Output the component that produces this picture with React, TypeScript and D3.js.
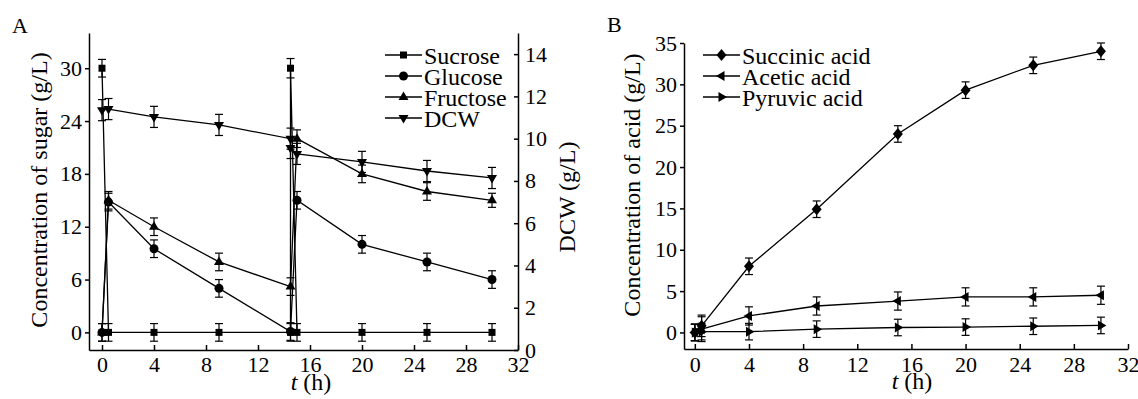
import React, { useEffect, useRef } from 'react';
import * as d3 from 'd3';

const W = 1138;
const H = 399;
const FONT = "'Liberation Serif', 'DejaVu Serif', serif";

// Panel A: sugars (left axis) and DCW (right axis)
const sucroseT = [0, 0.5, 4, 9, 14.5, 14.5, 15, 20, 25, 30];
const sucroseV = [30, 0, 0, 0, 0, 30, 0, 0, 0, 0];
const sucroseE = [1, 1, 1, 1, 1, 1.1, 1, 1, 1, 1];

const sugarT = [0, 0.5, 4, 9, 14.5, 15, 20, 25, 30];
const glucoseV = [0, 14.8, 9.5, 5, 0.1, 15, 10, 8, 6];
const glucoseE = [1, 1, 1, 1, 1, 1, 1, 1, 1];
const fructoseV = [0, 15, 12, 8, 5.2, 22, 18, 16, 15];
const fructoseE = [1, 1, 1, 1, 1, 1, 1, 1, 0.8];

const dcwT = [0, 0.5, 4, 9, 14.5, 14.5, 15, 20, 25, 30];
const dcwV = [11.35, 11.4, 11.03, 10.65, 10.0, 9.56, 9.28, 8.9, 8.47, 8.14];
const dcwE = [0.5, 0.5, 0.5, 0.5, 0.5, 0.5, 0.5, 0.5, 0.5, 0.5];

// Panel B: acids
const acidT = [0, 0.5, 4, 9, 15, 20, 25, 30];
const succinicV = [0, 0.8, 8, 14.9, 24, 29.3, 32.3, 34];
const succinicE = [1, 1.3, 1, 1, 1, 1, 1, 1];
const aceticV = [0, 0.4, 2, 3.2, 3.8, 4.3, 4.3, 4.5];
const aceticE = [1, 1.5, 1.1, 1.1, 1.1, 1.1, 1.1, 1.1];
const pyruvicV = [0, 0.1, 0.1, 0.4, 0.6, 0.65, 0.75, 0.85];
const pyruvicE = [1, 1, 1, 1, 1, 1, 1, 1];

const xTicks = [0, 4, 8, 12, 16, 20, 24, 28, 32];
const sugarTicks = [0, 6, 12, 18, 24, 30];
const dcwTicks = [0, 2, 4, 6, 8, 10, 12, 14];
const acidTicks = [0, 5, 10, 15, 20, 25, 30, 35];

const legendA = ['Sucrose', 'Glucose', 'Fructose', 'DCW'];
const legendB = ['Succinic acid', 'Acetic acid', 'Pyruvic acid'];

const marker = (shape: string) => {
  switch (shape) {
    case 'square': return 'M-3.5,-3.5H3.5V3.5H-3.5Z';
    case 'circle': return 'M4.5,0A4.5,4.5 0 1 1 -4.5,0A4.5,4.5 0 1 1 4.5,0Z';
    case 'up': return 'M0,-5.5L5,3L-5,3Z';
    case 'down': return 'M0,5.5L5,-3L-5,-3Z';
    case 'diamond': return 'M0,-6L5,0L0,6L-5,0Z';
    case 'left': return 'M-5.5,0L3,-5L3,5Z';
    default: return 'M5.5,0L-3,-5L-3,5Z';
  }
};

const App = () => {
  const ref = useRef<SVGSVGElement>(null);

  useEffect(() => {
    const svg = d3.select(ref.current);
    svg.selectAll('*').remove();
    svg.append('rect').attr('width', W).attr('height', H).attr('fill', '#fff');

    const xA = d3.scaleLinear().domain([-1, 32]).range([89, 518]);
    const ySugar = d3.scaleLinear().domain([-2, 34]).range([350, 33]);
    const yDcw = d3.scaleLinear().domain([0, 15]).range([350, 33]);
    const xB = d3.scaleLinear().domain([-0.8, 32]).range([684, 1128]);
    const yAcid = d3.scaleLinear().domain([-2, 35]).range([349, 43]);

    const styleAxis = (g: any) => {
      g.attr('font-family', null).attr('font-size', null);
      g.style('font-family', FONT).style('font-size', '22px');
      g.select('.domain').attr('stroke', '#000').attr('stroke-width', 1.5);
      g.selectAll('.tick line').attr('stroke', '#000').attr('stroke-width', 1.5);
      g.selectAll('.tick text').attr('fill', '#000');
    };

    // axes A
    svg.append('g').attr('transform', 'translate(0,350)')
      .call(d3.axisBottom(xA).tickValues(xTicks).tickSizeInner(-5).tickSizeOuter(0).tickPadding(6))
      .call(styleAxis);
    svg.append('g').attr('transform', 'translate(89,0)')
      .call(d3.axisLeft(ySugar).tickValues(sugarTicks).tickSizeInner(4).tickSizeOuter(0).tickPadding(3))
      .call(styleAxis);
    svg.append('g').attr('transform', 'translate(518,0)')
      .call(d3.axisRight(yDcw).tickValues(dcwTicks).tickSizeInner(-4).tickSizeOuter(0).tickPadding(7))
      .call(styleAxis);

    // axes B
    svg.append('g').attr('transform', 'translate(0,349)')
      .call(d3.axisBottom(xB).tickValues(xTicks).tickSizeInner(-5).tickSizeOuter(0).tickPadding(7))
      .call(styleAxis);
    svg.append('g').attr('transform', 'translate(684,0)')
      .call(d3.axisLeft(yAcid).tickValues(acidTicks).tickSizeInner(4).tickSizeOuter(0).tickPadding(3))
      .call(styleAxis);

    const drawSeries = (x: any, y: any, ts: number[], vs: number[], es: number[], shape: string) => {
      const pts = ts.map((t, i) => ({ t, v: vs[i], e: es[i] }));
      const g = svg.append('g');
      g.append('path')
        .datum(pts)
        .attr('fill', 'none')
        .attr('stroke', '#000')
        .attr('stroke-width', 1.3)
        .attr('d', d3.line<any>().x(d => x(d.t)).y(d => y(d.v)));
      const eb = g.selectAll('.eb').data(pts).enter().append('g')
        .attr('stroke', '#000').attr('stroke-width', 1.2);
      eb.append('line')
        .attr('x1', d => x(d.t)).attr('x2', d => x(d.t))
        .attr('y1', d => y(d.v - d.e)).attr('y2', d => y(d.v + d.e));
      eb.append('line')
        .attr('x1', d => x(d.t) - 4).attr('x2', d => x(d.t) + 4)
        .attr('y1', d => y(d.v - d.e)).attr('y2', d => y(d.v - d.e));
      eb.append('line')
        .attr('x1', d => x(d.t) - 4).attr('x2', d => x(d.t) + 4)
        .attr('y1', d => y(d.v + d.e)).attr('y2', d => y(d.v + d.e));
      g.selectAll('.mk').data(pts).enter().append('path')
        .attr('d', marker(shape))
        .attr('fill', '#000')
        .attr('transform', d => `translate(${x(d.t)},${y(d.v)})`);
    };

    drawSeries(xA, ySugar, sucroseT, sucroseV, sucroseE, 'square');
    drawSeries(xA, ySugar, sugarT, glucoseV, glucoseE, 'circle');
    drawSeries(xA, ySugar, sugarT, fructoseV, fructoseE, 'up');
    drawSeries(xA, yDcw, dcwT, dcwV, dcwE, 'down');

    drawSeries(xB, yAcid, acidT, succinicV, succinicE, 'diamond');
    drawSeries(xB, yAcid, acidT, aceticV, aceticE, 'left');
    drawSeries(xB, yAcid, acidT, pyruvicV, pyruvicE, 'right');

    // legends
    const drawLegend = (names: string[], shapes: string[], x0: number, y0: number) => {
      names.forEach((n, i) => {
        const yy = y0 + i * 21;
        svg.append('line').attr('x1', x0).attr('x2', x0 + 37).attr('y1', yy).attr('y2', yy)
          .attr('stroke', '#000').attr('stroke-width', 1.3);
        svg.append('path').attr('d', marker(shapes[i])).attr('fill', '#000')
          .attr('transform', `translate(${x0 + 18.5},${yy})`);
        svg.append('text').attr('x', x0 + 39).attr('y', yy + 8.5)
          .style('font-family', FONT).style('font-size', '24px').text(n);
      });
    };
    drawLegend(legendA, ['square', 'circle', 'up', 'down'], 385, 55);
    drawLegend(legendB, ['diamond', 'left', 'right'], 703, 55);

    // titles
    const title = (x: number, y: number, txt: string, rot: boolean) => {
      svg.append('text')
        .attr('transform', `translate(${x},${y})${rot ? ' rotate(-90)' : ''}`)
        .attr('text-anchor', 'middle')
        .style('font-family', FONT).style('font-size', '24px')
        .text(txt);
    };
    title(47, 190, 'Concentration of sugar (g/L)', true);
    title(575, 197, 'DCW (g/L)', true);
    title(640, 185, 'Concentration of acid (g/L)', true);

    [[311, 390], [912, 389]].forEach(([x, y]) => {
      const t = svg.append('text').attr('x', x).attr('y', y)
        .attr('text-anchor', 'middle').style('font-family', FONT).style('font-size', '24px');
      t.append('tspan').style('font-style', 'italic').text('t');
      t.append('tspan').text(' (h)');
    });

    svg.append('text').attr('x', 12).attr('y', 33).style('font-family', FONT).style('font-size', '22px').text('A');
    svg.append('text').attr('x', 607).attr('y', 32).style('font-family', FONT).style('font-size', '22px').text('B');
  }, []);

  return <svg ref={ref} width={W} height={H} style={{ position: 'absolute', left: 0, top: 0 }} />;
};

export default App;
